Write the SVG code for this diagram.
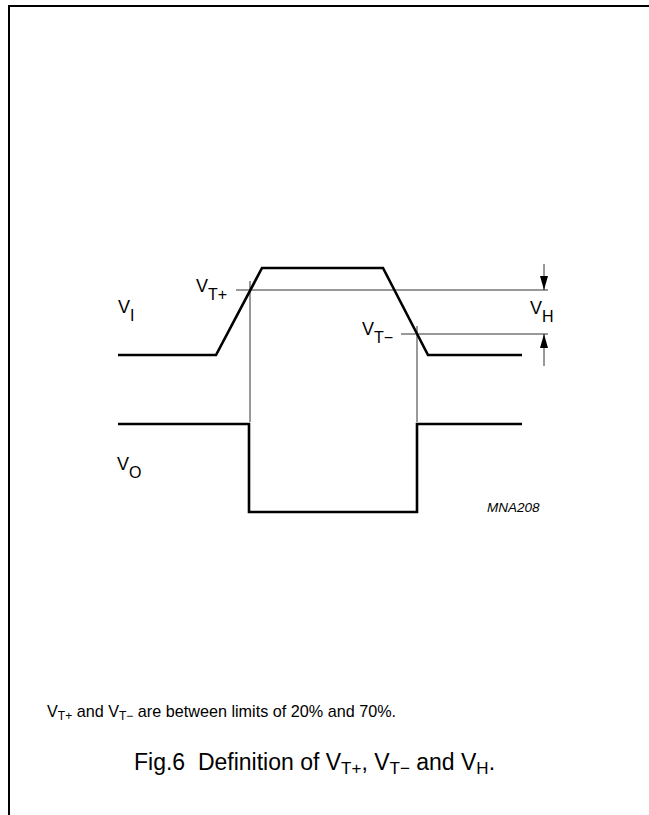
<svg xmlns="http://www.w3.org/2000/svg" width="649" height="815" viewBox="0 0 649 815">
<style>
.frame{fill:none;stroke:#000;stroke-width:2}
.wave{fill:none;stroke:#000;stroke-width:2.6;stroke-linejoin:miter}
.thin{fill:none;stroke:#333;stroke-width:1}
.lbl{font-family:"Liberation Sans",Arial,sans-serif;font-size:18px;fill:#000}
.sub{font-size:16px}
.code{font-family:"Liberation Sans",Arial,sans-serif;font-size:13.5px;font-style:italic;fill:#000}
.note{font-family:"Liberation Sans",Arial,sans-serif;font-size:16.2px;fill:#000}
.cap{font-family:"Liberation Sans",Arial,sans-serif;font-size:23px;fill:#000}
</style>
<defs>
<marker id="ah" markerWidth="14" markerHeight="8" refX="14" refY="4" orient="auto" markerUnits="userSpaceOnUse" viewBox="0 0 14 8">
<path d="M0,0 L14,4 L0,8 Z" fill="#000"/>
</marker>
</defs>
<rect width="649" height="815" fill="#fff"/>
<g id="frame">
<path class="frame" d="M9,815 V6 H649"/>
</g>
<g id="connectors">
<line class="thin" x1="236" y1="290" x2="548" y2="290"/>
<line class="thin" x1="401" y1="334" x2="548" y2="334"/>
<line class="thin" x1="250" y1="281" x2="250" y2="422"/>
<line class="thin" x1="417" y1="326" x2="417" y2="422"/>
<line class="thin" x1="544" y1="264" x2="544" y2="290" stroke="#000" marker-end="url(#ah)"/>
<line class="thin" x1="544" y1="366" x2="544" y2="334" stroke="#000" marker-end="url(#ah)"/>
</g>
<g id="vi-wave">
<polyline class="wave" points="118,355 216,355 262,268 383,268 428,355 522,355"/>
</g>
<g id="vo-wave">
<polyline class="wave" points="118,424 249,424 249,512 417,512 417,424 522,424"/>
</g>
<g id="label-vi">
<text class="lbl" x="118" y="313">V<tspan class="sub" dy="8">I</tspan></text>
</g>
<g id="label-vo">
<text class="lbl" x="117" y="470">V<tspan class="sub" dy="8">O</tspan></text>
</g>
<g id="label-vtp">
<text class="lbl" x="196" y="292">V<tspan class="sub" dy="8">T+</tspan></text>
</g>
<g id="label-vtm">
<text class="lbl" x="362" y="335">V<tspan class="sub" dy="8">T−</tspan></text>
</g>
<g id="label-vh">
<text class="lbl" x="530" y="314">V<tspan class="sub" dy="8">H</tspan></text>
</g>
<g id="code">
<text class="code" x="487" y="512">MNA208</text>
</g>
<g id="notes">
<text class="note" x="47" y="717">V<tspan font-size="12" dy="3">T+</tspan><tspan dy="-3"> and V</tspan><tspan font-size="12" dy="3">T−</tspan><tspan dy="-3"> are between limits of 20% and 70%.</tspan></text>
<text class="cap" x="134" y="770" xml:space="preserve">Fig.6  Definition of V<tspan font-size="17" dy="4">T+</tspan><tspan dy="-4">, V</tspan><tspan font-size="17" dy="4">T−</tspan><tspan dy="-4"> and V</tspan><tspan font-size="17" dy="4">H</tspan><tspan dy="-4">.</tspan></text>
</g>
</svg>
